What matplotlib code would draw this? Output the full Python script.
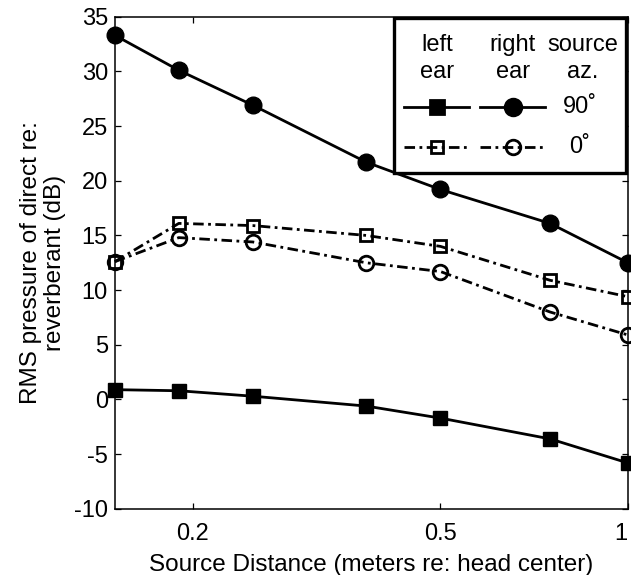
import matplotlib
matplotlib.use('Agg')
import matplotlib.pyplot as plt
import matplotlib.patches as patches

plt.rcParams['font.family'] = ['Liberation Sans', 'DejaVu Sans']
plt.rcParams['axes.unicode_minus'] = False

# Distances (m) and ratios (dB)
distance = [0.15, 0.19, 0.25, 0.38, 0.5, 0.75, 1.0]
left_90 = [0.9, 0.8, 0.3, -0.6, -1.7, -3.6, -5.8]
right_90 = [33.3, 30.1, 26.9, 21.7, 19.2, 16.1, 12.5]
left_0 = [12.6, 16.1, 15.9, 15.0, 14.0, 10.9, 9.4]
right_0 = [12.6, 14.8, 14.4, 12.5, 11.7, 8.0, 5.9]

xticks = [0.2, 0.5, 1]
xtick_labels = ['0.2', '0.5', '1']
yticks = list(range(-10, 36, 5))

fig = plt.figure(figsize=(6.31, 5.75), dpi=100)
ax = fig.add_axes([0.182, 0.115, 0.813, 0.856])

lw = 2.0
dashdot = (0, (3.8, 1.6, 1.0, 1.6))
ax.plot(distance, left_90, '-', color='k', lw=lw, marker='s', ms=9.5, mfc='k', mec='k', clip_on=False, zorder=3)
ax.plot(distance, right_90, '-', color='k', lw=lw, marker='o', ms=12, mfc='k', mec='k', clip_on=False, zorder=3)
ax.plot(distance, left_0, linestyle=dashdot, color='k', lw=lw, marker='s', ms=8.5, mfc='none', mec='k', mew=2,
        clip_on=False, zorder=3)
ax.plot(distance, right_0, linestyle=dashdot, color='k', lw=lw, marker='o', ms=10.5, mfc='none', mec='k', mew=2,
        clip_on=False, zorder=3)

ax.set_xscale('log')
ax.set_xlim(0.15, 1.0)
ax.set_ylim(-10, 35)
ax.set_xticks(xticks)
ax.set_xticklabels(xtick_labels)
ax.xaxis.set_minor_locator(matplotlib.ticker.NullLocator())
ax.set_yticks(yticks)
ax.tick_params(direction='in', top=True, right=True, labelsize=17, length=4.5, width=0.9)
ax.tick_params(axis='x', pad=10)
ax.tick_params(axis='y', pad=5)
# the "1" sits flush at the right edge as in the original
ax.get_xticklabels()[-1].set_horizontalalignment('right')
for s in ax.spines.values():
    s.set_linewidth(1.1)

ax.set_xlabel('Source Distance (meters re: head center)', fontsize=17.5, labelpad=7)
ax.set_ylabel('RMS pressure of direct re:\nreverberant (dB)', fontsize=17.5, labelpad=6, linespacing=1.1)

# legend table drawn in axes coordinates
tr = ax.transAxes
box = patches.Rectangle((0.545, 0.683), 0.452, 0.314, transform=tr, fill=True,
                        facecolor='white', edgecolor='k', lw=2.4, zorder=5, clip_on=False)
ax.add_patch(box)
heads = [(0.628, 'left\near'), (0.776, 'right\near'), (0.912, 'source\naz.')]
for hx, txt in heads:
    ax.text(hx, 0.915, txt, transform=tr, ha='center', va='center', fontsize=17,
            multialignment='center', linespacing=1.25, zorder=6)
rows = [(0.817, '-', 'k', '90˚'), (0.735, dashdot, 'none', '0˚')]
for ry, ls, fc, lab in rows:
    ax.plot([0.563, 0.690], [ry, ry], linestyle=ls, color='k', lw=lw, transform=tr, zorder=6, clip_on=False)
    ax.plot([0.628], [ry], 's', ms=9.5 if fc == 'k' else 8.5, mfc=fc, mec='k', mew=2,
            transform=tr, zorder=7, clip_on=False)
    ax.plot([0.711, 0.838], [ry, ry], linestyle=ls, color='k', lw=lw, transform=tr, zorder=6, clip_on=False)
    ax.plot([0.776], [ry], 'o', ms=12 if fc == 'k' else 10.5, mfc=fc, mec='k', mew=2,
            transform=tr, zorder=7, clip_on=False)
    ax.text(0.906, ry, lab, transform=tr, ha='center', va='center', fontsize=17, zorder=6)

fig.savefig('out.png', dpi=100)
